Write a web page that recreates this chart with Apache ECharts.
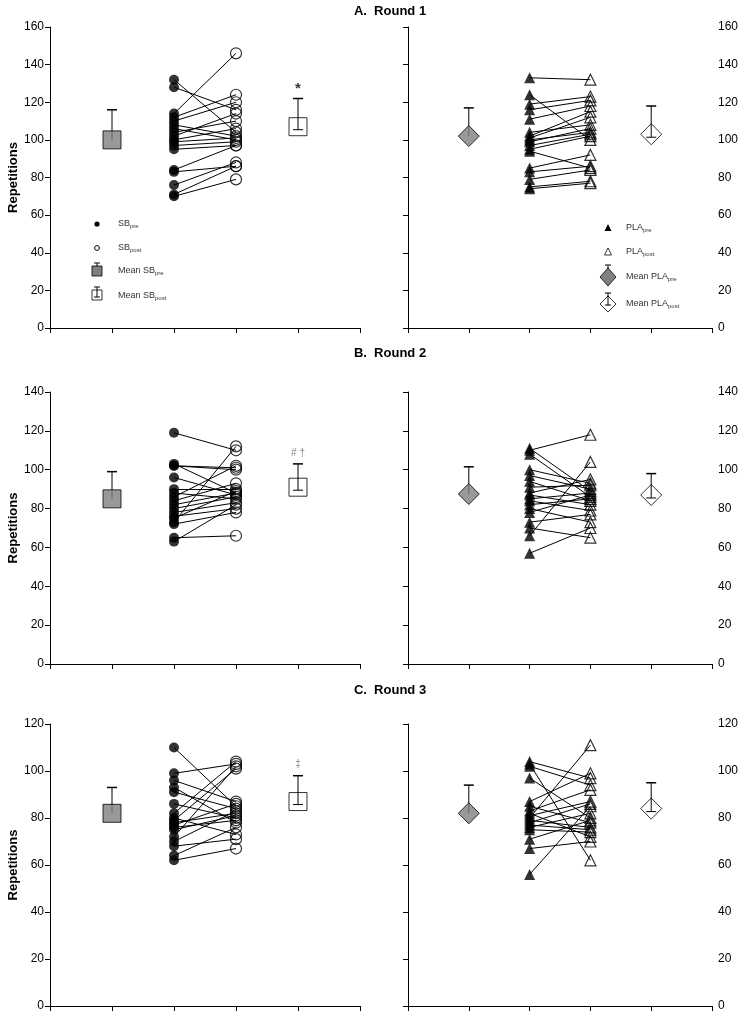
<!DOCTYPE html>
<html><head><meta charset="utf-8">
<script src="https://cdn.jsdelivr.net/npm/echarts@6/dist/echarts.min.js"></script>
<style>html,body{margin:0;padding:0;background:#fff}#c{width:745px;height:1022px}</style>
</head><body><div id="c"></div>
<script>
// ---------- DATA ----------
const panelTitles = ['A.  Round 1', 'B.  Round 2', 'C.  Round 3'];
const yMaxByRound = [160, 140, 120];

// Round 1 individual values (pre -> post pairs)
const sbPreR1  = [132, 128, 114, 112, 110, 108, 106, 104, 102, 100, 99, 97, 95, 84, 83, 76, 71, 70];
const sbPostR1 = [104, 116, 146, 124, 120, 102, 100, 110, 114, 106, 101, 99, 97, 97, 86, 88, 86, 79];
const plaPreR1  = [133, 124, 119, 116, 111, 104, 102, 101, 100, 99, 97, 95, 94, 85, 83, 79, 75, 74];
const plaPostR1 = [132, 100, 123, 121, 118, 108, 115, 112, 104, 106, 103, 102, 85, 92, 86, 84, 78, 77];

// Round 2
const sbPreR2  = [119, 103, 102, 102, 96, 90, 88, 86, 84, 82, 80, 78, 76, 75, 73, 72, 65, 63];
const sbPostR2 = [110, 88, 101, 100, 87, 90, 85, 102, 93, 88, 86, 83, 80, 89, 112, 78, 66, 82];
const plaPreR2  = [111, 110, 108, 100, 97, 94, 91, 88, 87, 85, 84, 82, 80, 78, 73, 70, 66, 57];
const plaPostR2 = [89, 118, 86, 93, 90, 84, 92, 95, 82, 88, 79, 85, 73, 87, 77, 65, 104, 70];

// Round 3
const sbPreR3  = [110, 99, 96, 93, 91, 86, 82, 80, 79, 78, 77, 76, 75, 72, 70, 68, 64, 62];
const sbPostR3 = [85, 103, 87, 78, 84, 80, 104, 73, 101, 82, 86, 79, 81, 102, 83, 71, 76, 67];
const plaPreR3  = [104, 103, 102, 97, 87, 85, 83, 82, 81, 80, 79, 78, 77, 76, 75, 71, 67, 56];
const plaPostR3 = [97, 62, 94, 80, 99, 78, 92, 72, 87, 111, 76, 86, 75, 82, 74, 79, 70, 85];

// Group means and (upper) SD bars, per round
const sbMeanPre  = [100, 85, 82];
const sbSdPre    = [16, 14, 11];
const sbMeanPost = [107, 91, 87];
const sbSdPost   = [15, 12, 11];
const plaMeanPre  = [102, 87.5, 82];
const plaSdPre    = [15, 14, 12];
const plaMeanPost = [103, 87, 84];
const plaSdPost   = [15, 11, 11];
const sbAnnotations = ['*', '# †', '‡'];

// x positions on the category-like value axis
const X_MEAN_PRE = 1, X_PRE = 2, X_POST = 3, X_MEAN_POST = 4;

// ---------- CHART ----------
const FONT = 'Liberation Sans, Arial, sans-serif';
const sbPre = [sbPreR1, sbPreR2, sbPreR3];
const sbPost = [sbPostR1, sbPostR2, sbPostR3];
const plaPre = [plaPreR1, plaPreR2, plaPreR3];
const plaPost = [plaPostR1, plaPostR2, plaPostR3];

const gridTops = [27, 392, 724];
const gridHeights = [301, 272, 282];
const grids = [], xAxes = [], yAxes = [], series = [];

for (let r = 0; r < 3; r++) {
  for (let s = 0; s < 2; s++) {
    const idx = r * 2 + s;
    grids.push(s === 0
      ? { left: 50, top: gridTops[r], width: 310, height: gridHeights[r] }
      : { left: 408, top: gridTops[r], width: 304, height: gridHeights[r] });
    xAxes.push({
      gridIndex: idx, type: 'value', min: 0, max: 5, interval: 1,
      axisLine: { show: true, onZero: false, lineStyle: { color: '#000', width: 1 } },
      axisTick: { show: true, length: 5, lineStyle: { color: '#000' } },
      axisLabel: { show: false }, splitLine: { show: false }
    });
    yAxes.push({
      gridIndex: idx, type: 'value', min: 0, max: yMaxByRound[r], interval: 20,
      position: s === 0 ? 'left' : 'right',
      axisLine: { show: true, lineStyle: { color: '#000', width: 1 } },
      axisTick: { show: true, inside: s === 1, length: 5, lineStyle: { color: '#000' } },
      axisLabel: { color: '#000', fontSize: 12, fontFamily: FONT, margin: 6 },
      splitLine: { show: false },
      name: s === 0 ? 'Repetitions' : '',
      nameLocation: 'middle', nameGap: 30,
      nameTextStyle: { fontWeight: 'bold', fontSize: 13, color: '#000', fontFamily: FONT }
    });

    const pre = s === 0 ? sbPre[r] : plaPre[r];
    const post = s === 0 ? sbPost[r] : plaPost[r];
    const meanPre = s === 0 ? sbMeanPre[r] : plaMeanPre[r];
    const sdPre = s === 0 ? sbSdPre[r] : plaSdPre[r];
    const meanPost = s === 0 ? sbMeanPost[r] : plaMeanPost[r];
    const sdPost = s === 0 ? sbSdPost[r] : plaSdPost[r];
    const ax = { xAxisIndex: idx, yAxisIndex: idx };

    series.push(Object.assign({
      type: 'lines', coordinateSystem: 'cartesian2d', z: 2, silent: true,
      lineStyle: { color: '#000', width: 1, opacity: 1 },
      data: pre.map((v, i) => ({ coords: [[X_PRE, v], [X_POST, post[i]]] }))
    }, ax));
    series.push(Object.assign({
      type: 'scatter', z: 3, symbol: s === 0 ? 'circle' : 'triangle',
      symbolSize: s === 0 ? 10 : 11,
      itemStyle: { color: '#000' },
      data: pre.map(v => [X_PRE, v])
    }, ax));
    series.push(Object.assign({
      type: 'scatter', z: 3, symbol: s === 0 ? 'circle' : 'triangle',
      symbolSize: 11,
      itemStyle: { color: 'rgba(255,255,255,0)', borderColor: '#000', borderWidth: 1.2 },
      data: post.map(v => [X_POST, v])
    }, ax));

    const errRender = (withBase) => function (params, api) {
      const x = api.value(0), m = api.value(1), sd = api.value(2);
      const p0 = api.coord([x, m]), p1 = api.coord([x, m + sd]);
      const ch = [
        { type: 'line', shape: { x1: p0[0], y1: p0[1], x2: p1[0], y2: p1[1] }, style: { stroke: '#000', lineWidth: 1 } },
        { type: 'line', shape: { x1: p1[0] - 5, y1: p1[1], x2: p1[0] + 5, y2: p1[1] }, style: { stroke: '#000', lineWidth: 1.5 } }
      ];
      if (withBase) {
        ch.push({ type: 'line', shape: { x1: p0[0] - 5, y1: p0[1] + 3, x2: p0[0] + 5, y2: p0[1] + 3 }, style: { stroke: '#000', lineWidth: 1 } });
        ch[0].shape.y1 = p0[1] + 3;
      }
      return { type: 'group', children: ch };
    };
    series.push(Object.assign({ type: 'custom', z: 4, renderItem: errRender(false), data: [[X_MEAN_PRE, meanPre, sdPre]] }, ax));
    series.push(Object.assign({
      type: 'scatter', z: 5, symbol: s === 0 ? 'rect' : 'diamond',
      symbolSize: s === 0 ? 18 : 21,
      itemStyle: { color: '#808080', borderColor: '#000', borderWidth: 1 },
      data: [[X_MEAN_PRE, meanPre]]
    }, ax));
    series.push(Object.assign({
      type: 'scatter', z: 5, symbol: s === 0 ? 'rect' : 'diamond',
      symbolSize: s === 0 ? 18 : 21,
      itemStyle: { color: '#fff', borderColor: '#000', borderWidth: 1 },
      data: [[X_MEAN_POST, meanPost]]
    }, ax));
    series.push(Object.assign({ type: 'custom', z: 6, renderItem: errRender(true), data: [[X_MEAN_POST, meanPost, sdPost]] }, ax));

    if (s === 0) {
      const a = sbAnnotations[r];
      series.push(Object.assign({
        type: 'scatter', z: 7, symbolSize: 0, silent: true,
        label: {
          show: true, position: 'top', distance: r === 0 ? 2 : 6, formatter: a,
          fontFamily: FONT, color: r === 0 ? '#000' : '#666',
          fontSize: r === 0 ? 15 : 10, fontWeight: r === 0 ? 'bold' : 'normal'
        },
        data: [[X_MEAN_POST, meanPost + sdPost]]
      }, ax));
    }
  }
}

const titles = panelTitles.map((t, r) => ({
  text: t, left: 385, top: [0, 342, 679][r], textAlign: 'center',
  textStyle: { fontSize: 13, fontWeight: 'bold', color: '#000', fontFamily: FONT }
}));

const txtRich = { sub: { fontSize: 6, color: '#333', verticalAlign: 'bottom', padding: [4, 0, 0, 0], fontFamily: FONT } };
function legText(x, y, str) {
  return { type: 'text', x: x, y: y, style: { text: str, rich: txtRich, fontSize: 9, fill: '#333', fontFamily: FONT, verticalAlign: 'middle' }, z: 10 };
}
const graphic = [
  { type: 'circle', shape: { cx: 97, cy: 224, r: 2.6 }, style: { fill: '#000' } },
  { type: 'circle', shape: { cx: 97, cy: 248, r: 2.4 }, style: { fill: 'none', stroke: '#000', lineWidth: 1 } },
  { type: 'line', shape: { x1: 97, y1: 263, x2: 97, y2: 271 }, style: { stroke: '#000' } },
  { type: 'line', shape: { x1: 94, y1: 263, x2: 100, y2: 263 }, style: { stroke: '#000' } },
  { type: 'rect', shape: { x: 92, y: 266, width: 10, height: 10 }, style: { fill: '#808080', stroke: '#000', lineWidth: 0.8 } },
  { type: 'rect', shape: { x: 92, y: 290, width: 10, height: 10 }, style: { fill: '#fff', stroke: '#000', lineWidth: 0.8 } },
  { type: 'line', shape: { x1: 97, y1: 287, x2: 97, y2: 297 }, style: { stroke: '#000' } },
  { type: 'line', shape: { x1: 94, y1: 287, x2: 100, y2: 287 }, style: { stroke: '#000' } },
  { type: 'line', shape: { x1: 94, y1: 297, x2: 100, y2: 297 }, style: { stroke: '#000' } },
  legText(118, 224, 'SB{sub|pre}'),
  legText(118, 248, 'SB{sub|post}'),
  legText(118, 271, 'Mean SB{sub|pre}'),
  legText(118, 296, 'Mean SB{sub|post}'),
  { type: 'polygon', shape: { points: [[608, 224], [611.5, 231], [604.5, 231]] }, style: { fill: '#000' } },
  { type: 'polygon', shape: { points: [[608, 248], [611.5, 255], [604.5, 255]] }, style: { fill: 'none', stroke: '#000', lineWidth: 0.8 } },
  { type: 'line', shape: { x1: 608, y1: 265, x2: 608, y2: 272 }, style: { stroke: '#000' } },
  { type: 'line', shape: { x1: 605, y1: 265, x2: 611, y2: 265 }, style: { stroke: '#000' } },
  { type: 'polygon', shape: { points: [[608, 268], [616, 277], [608, 286], [600, 277]] }, style: { fill: '#808080', stroke: '#000', lineWidth: 0.8 } },
  { type: 'polygon', shape: { points: [[608, 296], [616, 304], [608, 312], [600, 304]] }, style: { fill: '#fff', stroke: '#000', lineWidth: 0.8 } },
  { type: 'line', shape: { x1: 608, y1: 293, x2: 608, y2: 305 }, style: { stroke: '#000' } },
  { type: 'line', shape: { x1: 605, y1: 293, x2: 611, y2: 293 }, style: { stroke: '#000' } },
  { type: 'line', shape: { x1: 605, y1: 305, x2: 611, y2: 305 }, style: { stroke: '#000' } },
  legText(626, 228, 'PLA{sub|pre}'),
  legText(626, 252, 'PLA{sub|post}'),
  legText(626, 277, 'Mean PLA{sub|pre}'),
  legText(626, 304, 'Mean PLA{sub|post}')
];

const chart = echarts.init(document.getElementById('c'));
chart.setOption({
  animation: false,
  backgroundColor: '#fff',
  title: titles,
  grid: grids, xAxis: xAxes, yAxis: yAxes,
  series: series,
  graphic: graphic
});
</script></body></html>
